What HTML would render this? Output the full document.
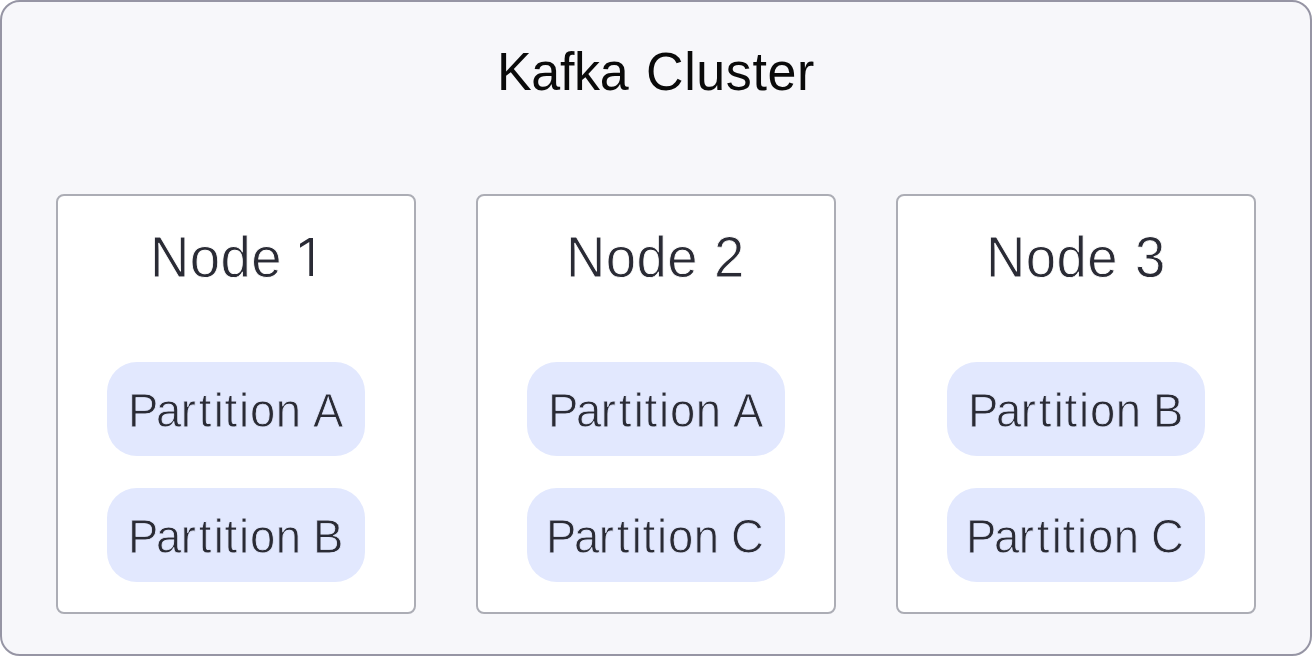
<!DOCTYPE html>
<html>
<head>
<meta charset="utf-8">
<title>Kafka Cluster</title>
<style>
  html, body { margin: 0; padding: 0; background: #ffffff; }
  body { width: 1312px; height: 656px; overflow: hidden; position: relative;
         font-family: "Liberation Sans", sans-serif; }
  .cluster { position: absolute; left: 0; top: 0; width: 1312px; height: 656px;
             box-sizing: border-box; border: 2px solid #9695a4; border-radius: 20px;
             background: #f7f7fa; }
  .node { position: absolute; top: 194px; width: 360px; height: 420px;
          box-sizing: border-box; border: 2px solid #acadb5; border-radius: 8px;
          background: #ffffff; }
  .n1 { left: 56px; } .n2 { left: 476px; } .n3 { left: 896px; }
  .pill { position: absolute; left: 49px; width: 258px; height: 94px;
          border-radius: 30px; background: #e2e8fe; }
  .p1 { top: 166px; } .p2 { top: 292px; }
  .t { position: absolute; line-height: 1; white-space: nowrap; display: block; transform-origin: 0 84.65%; will-change: transform; }
  .ti { color: #0a0a0a; }
  .nl { color: #2a2b35; -webkit-text-stroke: 0.8px #ffffff; }
  .pl { color: #2a2b35; -webkit-text-stroke: 0.8px #e2e8fe; }
  .one { position: absolute; display: block; }
</style>
</head>
<body>
<div class="cluster"></div>
<div class="node n1"><div class="pill p1"></div><div class="pill p2"></div></div>
<div class="node n2"><div class="pill p1"></div><div class="pill p2"></div></div>
<div class="node n3"><div class="pill p1"></div><div class="pill p2"></div></div>
<span class="t ti" style="left:497.00px;top:45.98px;font-size:52.00px;letter-spacing:-0.35px;transform:scaleY(1.015);">Kafka</span>
<span class="t ti" style="left:645.80px;top:45.98px;font-size:52.00px;letter-spacing:0.60px;transform:scaleY(1.015);">Cluster</span>
<span class="t nl" style="left:150.20px;top:232.27px;font-size:54.50px;letter-spacing:0.40px;transform:scaleY(1.05);">Node</span>
<svg class="one" width="20" height="44" viewBox="296 235 20 44" style="left:296px;top:235px"><path d="M313 237.9 L313 275.9 L309.3 275.9 L309.3 241.9 L300 247.7 L300 243.7 L309.2 237.9 Z" fill="#2a2b35"/></svg>
<span class="t nl" style="left:565.90px;top:232.27px;font-size:54.50px;letter-spacing:0.40px;transform:scaleY(1.05);">Node</span>
<span class="t nl" style="left:714.20px;top:232.27px;font-size:54.50px;letter-spacing:0.00px;transform:scaleY(1.05);">2</span>
<span class="t nl" style="left:985.90px;top:232.27px;font-size:54.50px;letter-spacing:0.40px;transform:scaleY(1.05);">Node</span>
<span class="t nl" style="left:1134.80px;top:232.27px;font-size:54.50px;letter-spacing:0.00px;transform:scaleY(1.05);">3</span>
<span class="t pl" style="left:128.20px;top:389.28px;font-size:45.50px;letter-spacing:0.00px;transform:scaleY(1.075);"><span style="letter-spacing:-2.40px">P</span><span style="letter-spacing:-0.60px">a</span><span style="letter-spacing:3.00px">r</span><span style="letter-spacing:2.20px">t</span><span style="letter-spacing:0.80px">i</span><span style="letter-spacing:1.80px">t</span><span style="letter-spacing:0.80px">i</span><span style="letter-spacing:0.50px">o</span><span style="letter-spacing:0.00px">n</span></span>
<span class="t pl" style="left:313.20px;top:389.28px;font-size:45.50px;letter-spacing:0.00px;transform:scaleY(1.075);">A</span>
<span class="t pl" style="left:128.20px;top:515.28px;font-size:45.50px;letter-spacing:0.00px;transform:scaleY(1.075);"><span style="letter-spacing:-2.40px">P</span><span style="letter-spacing:-0.60px">a</span><span style="letter-spacing:3.00px">r</span><span style="letter-spacing:2.20px">t</span><span style="letter-spacing:0.80px">i</span><span style="letter-spacing:1.80px">t</span><span style="letter-spacing:0.80px">i</span><span style="letter-spacing:0.50px">o</span><span style="letter-spacing:0.00px">n</span></span>
<span class="t pl" style="left:313.20px;top:515.28px;font-size:45.50px;letter-spacing:0.00px;transform:scaleY(1.075);">B</span>
<span class="t pl" style="left:548.20px;top:389.28px;font-size:45.50px;letter-spacing:0.00px;transform:scaleY(1.075);"><span style="letter-spacing:-2.40px">P</span><span style="letter-spacing:-0.60px">a</span><span style="letter-spacing:3.00px">r</span><span style="letter-spacing:2.20px">t</span><span style="letter-spacing:0.80px">i</span><span style="letter-spacing:1.80px">t</span><span style="letter-spacing:0.80px">i</span><span style="letter-spacing:0.50px">o</span><span style="letter-spacing:0.00px">n</span></span>
<span class="t pl" style="left:733.20px;top:389.28px;font-size:45.50px;letter-spacing:0.00px;transform:scaleY(1.075);">A</span>
<span class="t pl" style="left:546.20px;top:515.28px;font-size:45.50px;letter-spacing:0.00px;transform:scaleY(1.075);"><span style="letter-spacing:-2.40px">P</span><span style="letter-spacing:-0.60px">a</span><span style="letter-spacing:3.00px">r</span><span style="letter-spacing:2.20px">t</span><span style="letter-spacing:0.80px">i</span><span style="letter-spacing:1.80px">t</span><span style="letter-spacing:0.80px">i</span><span style="letter-spacing:0.50px">o</span><span style="letter-spacing:0.00px">n</span></span>
<span class="t pl" style="left:731.20px;top:515.28px;font-size:45.50px;letter-spacing:0.00px;transform:scaleY(1.075);">C</span>
<span class="t pl" style="left:968.20px;top:389.28px;font-size:45.50px;letter-spacing:0.00px;transform:scaleY(1.075);"><span style="letter-spacing:-2.40px">P</span><span style="letter-spacing:-0.60px">a</span><span style="letter-spacing:3.00px">r</span><span style="letter-spacing:2.20px">t</span><span style="letter-spacing:0.80px">i</span><span style="letter-spacing:1.80px">t</span><span style="letter-spacing:0.80px">i</span><span style="letter-spacing:0.50px">o</span><span style="letter-spacing:0.00px">n</span></span>
<span class="t pl" style="left:1153.20px;top:389.28px;font-size:45.50px;letter-spacing:0.00px;transform:scaleY(1.075);">B</span>
<span class="t pl" style="left:966.20px;top:515.28px;font-size:45.50px;letter-spacing:0.00px;transform:scaleY(1.075);"><span style="letter-spacing:-2.40px">P</span><span style="letter-spacing:-0.60px">a</span><span style="letter-spacing:3.00px">r</span><span style="letter-spacing:2.20px">t</span><span style="letter-spacing:0.80px">i</span><span style="letter-spacing:1.80px">t</span><span style="letter-spacing:0.80px">i</span><span style="letter-spacing:0.50px">o</span><span style="letter-spacing:0.00px">n</span></span>
<span class="t pl" style="left:1151.20px;top:515.28px;font-size:45.50px;letter-spacing:0.00px;transform:scaleY(1.075);">C</span>
</body>
</html>
